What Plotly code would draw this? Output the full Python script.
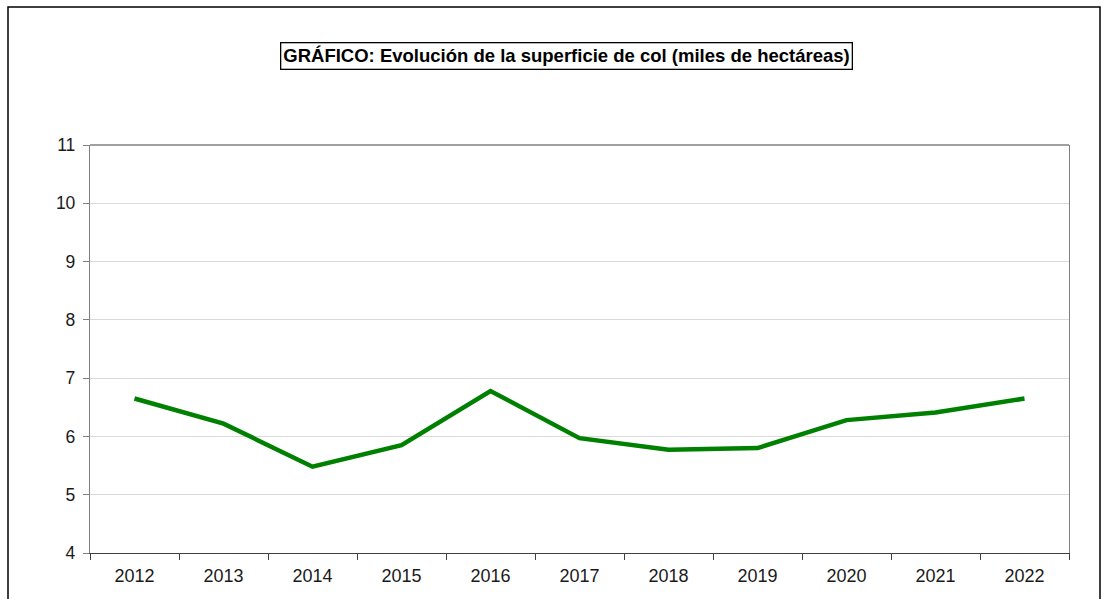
import plotly.graph_objects as go

# Superficie de col, miles de hectáreas
years = ["2012", "2013", "2014", "2015", "2016", "2017", "2018", "2019", "2020", "2021", "2022"]
superficie = [6.65, 6.22, 5.48, 5.85, 6.78, 5.97, 5.77, 5.80, 6.28, 6.41, 6.65]
y_ticks = [4, 5, 6, 7, 8, 9, 10, 11]
title_text = "GRÁFICO: Evolución de la superficie de col (miles de hectáreas)"

W, H = 1110, 599
L, R, T, B = 90, 41, 145, 46
pw, ph = W - L - R, H - T - B


def px_x(x):
    return (x - L) / pw


def px_y(y):
    return (H - B - y) / ph


fig = go.Figure()
fig.add_trace(go.Scatter(
    x=years, y=superficie, mode="lines",
    line=dict(color="#008000", width=4.5),
    hoverinfo="x+y",
))

font = "Liberation Sans, Arial, sans-serif"

fig.update_layout(
    width=W, height=H,
    margin=dict(l=L, r=R, t=T, b=B, pad=0),
    paper_bgcolor="white", plot_bgcolor="white",
    showlegend=False,
    font=dict(family=font, size=17, color="#1a1a1a"),
    xaxis=dict(
        type="category", range=[-0.5, len(years) - 0.5],
        showgrid=False, zeroline=False,
        showline=True, linecolor="#404040", linewidth=1.3,
        ticks="outside", tickson="boundaries", ticklen=6,
        tickcolor="#404040", tickwidth=1.3,
        ticklabelstandoff=6,
        tickfont=dict(size=18, color="#1a1a1a"),
    ),
    yaxis=dict(
        range=[4, 11], tickvals=y_ticks,
        showgrid=True, gridcolor="#d9d9d9", gridwidth=1.2,
        zeroline=False,
        showline=True, linecolor="#808080", linewidth=1.3, mirror=True,
        ticks="outside", ticklen=6, tickcolor="#808080", tickwidth=1.3,
        ticklabelstandoff=4,
        tickfont=dict(size=17.5, color="#1a1a1a"),
    ),
    shapes=[
        # top edge of the plot frame
        dict(type="line", xref="paper", yref="paper", x0=0, x1=1, y0=1, y1=1,
             line=dict(color="#808080", width=1.3), layer="above"),
        # outer chart border
        dict(type="rect", xref="paper", yref="paper",
             x0=px_x(8), x1=px_x(1100), y0=px_y(640), y1=px_y(7),
             line=dict(color="#000000", width=1.5), layer="below"),
    ],
    annotations=[
        dict(text="<b>" + title_text + "</b>", xref="paper", yref="paper",
             x=px_x(566), y=px_y(56), xanchor="center", yanchor="middle",
             showarrow=False, font=dict(family=font, size=18.5, color="#000000"),
             bordercolor="#000000", borderwidth=1.3, borderpad=2,
             bgcolor="white"),
    ],
)

fig.write_html("out.html")
